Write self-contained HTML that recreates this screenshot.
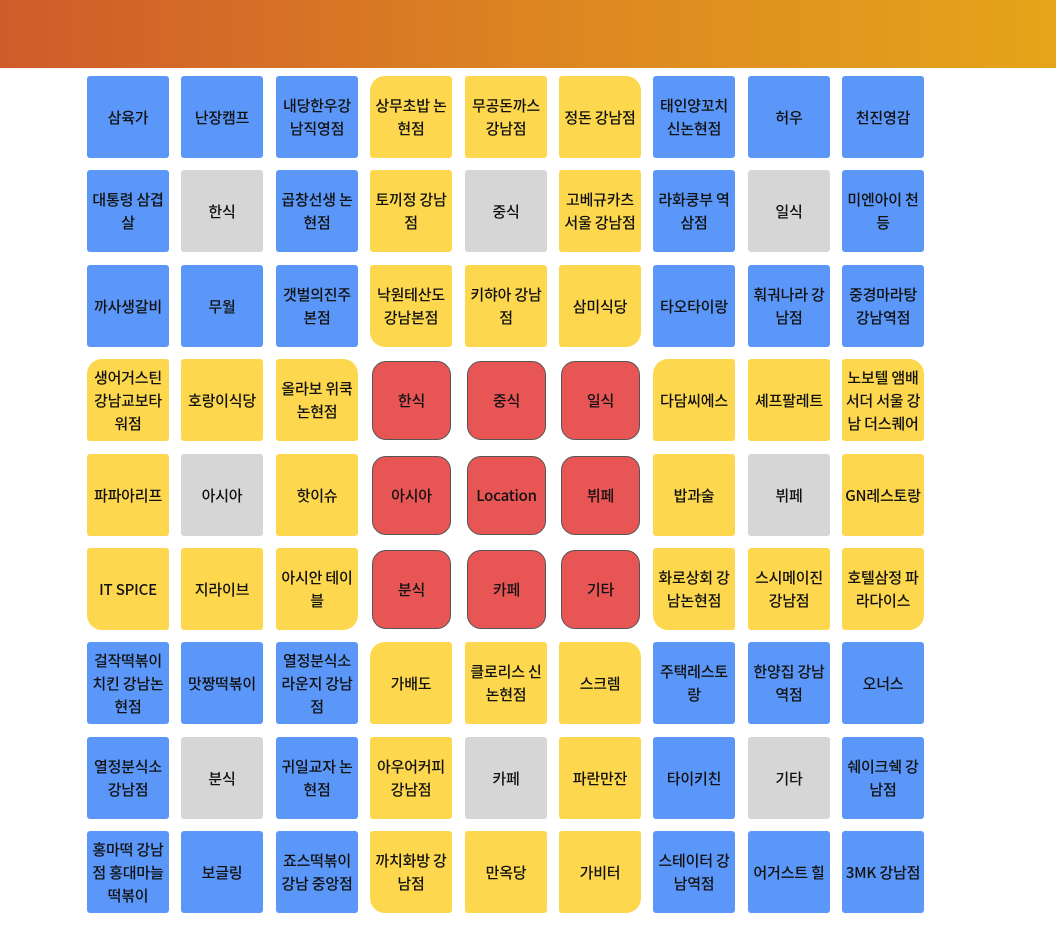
<!DOCTYPE html>
<html><head><meta charset="utf-8">
<style>
body{margin:0;width:1056px;height:931px;background:#fff;position:relative;overflow:hidden;font-family:"Noto Sans CJK KR","Liberation Sans",sans-serif;}
#header{position:absolute;left:0;top:0;width:1056px;height:68px;background:linear-gradient(90deg,#cf5b2a,#dc8422 50%,#e5a51a);}
.cell{position:absolute;width:82px;height:82px;display:flex;align-items:center;justify-content:center;text-align:center;font-size:15px;font-weight:500;line-height:23px;color:#111;box-sizing:border-box;padding:0 2px;border-radius:3px;word-break:break-all;letter-spacing:-0.2px;}
.blue{background:#5b97f8;}
.yellow{background:#fdd84e;}
.gray{background:#d6d6d6;}
.red{background:#e85555;border:1px solid #555;border-radius:14px;width:79px;height:79px;}
</style></head>
<body>
<div id="header"></div>
<div id="grid"></div>
<script>
const labels = [
["삼육가","난장캠프","내당한우강 남직영점","상무초밥 논현점","무공돈까스 강남점","정돈 강남점","태인양꼬치 신논현점","허우","천진영감"],
["대통령 삼겹살","한식","곱창선생 논현점","토끼정 강남점","중식","고베규카츠 서울 강남점","라화쿵부 역삼점","일식","미엔아이 천등"],
["까사생갈비","무월","갯벌의진주 본점","낙원테산도 강남본점","키햐아 강남점","삼미식당","타오타이랑","훠궈나라 강남점","중경마라탕 강남역점"],
["생어거스틴 강남교보타워점","호랑이식당","올라보 위쿡 논현점","한식","중식","일식","다담씨에스","셰프팔레트","노보텔 앰배서더 서울 강남 더스퀘어"],
["파파아리프","아시아","핫이슈","아시아","Location","뷔페","밥과술","뷔페","GN레스토랑"],
["IT SPICE","지라이브","아시안 테이블","분식","카페","기타","화로상회 강남논현점","스시메이진 강남점","호텔삼정 파라다이스"],
["걸작떡볶이치킨 강남논현점","맛짱떡볶이","열정분식소라운지 강남점","가배도","클로리스 신논현점","스크렘","주택레스토랑","한양집 강남역점","오너스"],
["열정분식소 강남점","분식","귀일교자 논현점","아우어커피 강남점","카페","파란만잔","타이키친","기타","쉐이크쉑 강남점"],
["홍마떡 강남점 홍대마늘떡볶이","보글링","죠스떡볶이 강남 중앙점","까치화방 강남점","만옥당","가비터","스테이터 강남역점","어거스트 힐","3MK 강남점"]
];
const grid=document.getElementById('grid');
const X0=87,Y0=76,P=94.4;
for(let r=0;r<9;r++)for(let c=0;c<9;c++){
  const br=Math.floor(r/3),bc=Math.floor(c/3),ir=r%3,ic=c%3;
  const el=document.createElement('div');
  
  
  let cls;
  if(br===1&&bc===1)cls='red';
  else if(ir===1&&ic===1)cls='gray';
  else if(br!==1&&bc!==1)cls='blue';
  else cls='yellow';
  el.className='cell '+cls;
  let x=X0+c*P,y=Y0+r*P;
  if(cls==='red'){x+=2;y+=2;}
  el.style.left=Math.round(x)+'px';el.style.top=Math.round(y)+'px';
  if(cls==='yellow'){
    const R='15px',s='3px';
    const tl=(ir===0&&ic===0)?R:s,tr=(ir===0&&ic===2)?R:s,brr=(ir===2&&ic===2)?R:s,bl=(ir===2&&ic===0)?R:s;
    el.style.borderRadius=tl+' '+tr+' '+brr+' '+bl;
  }
  el.textContent=labels[r][c];
  grid.appendChild(el);
}
</script>
</body></html>
